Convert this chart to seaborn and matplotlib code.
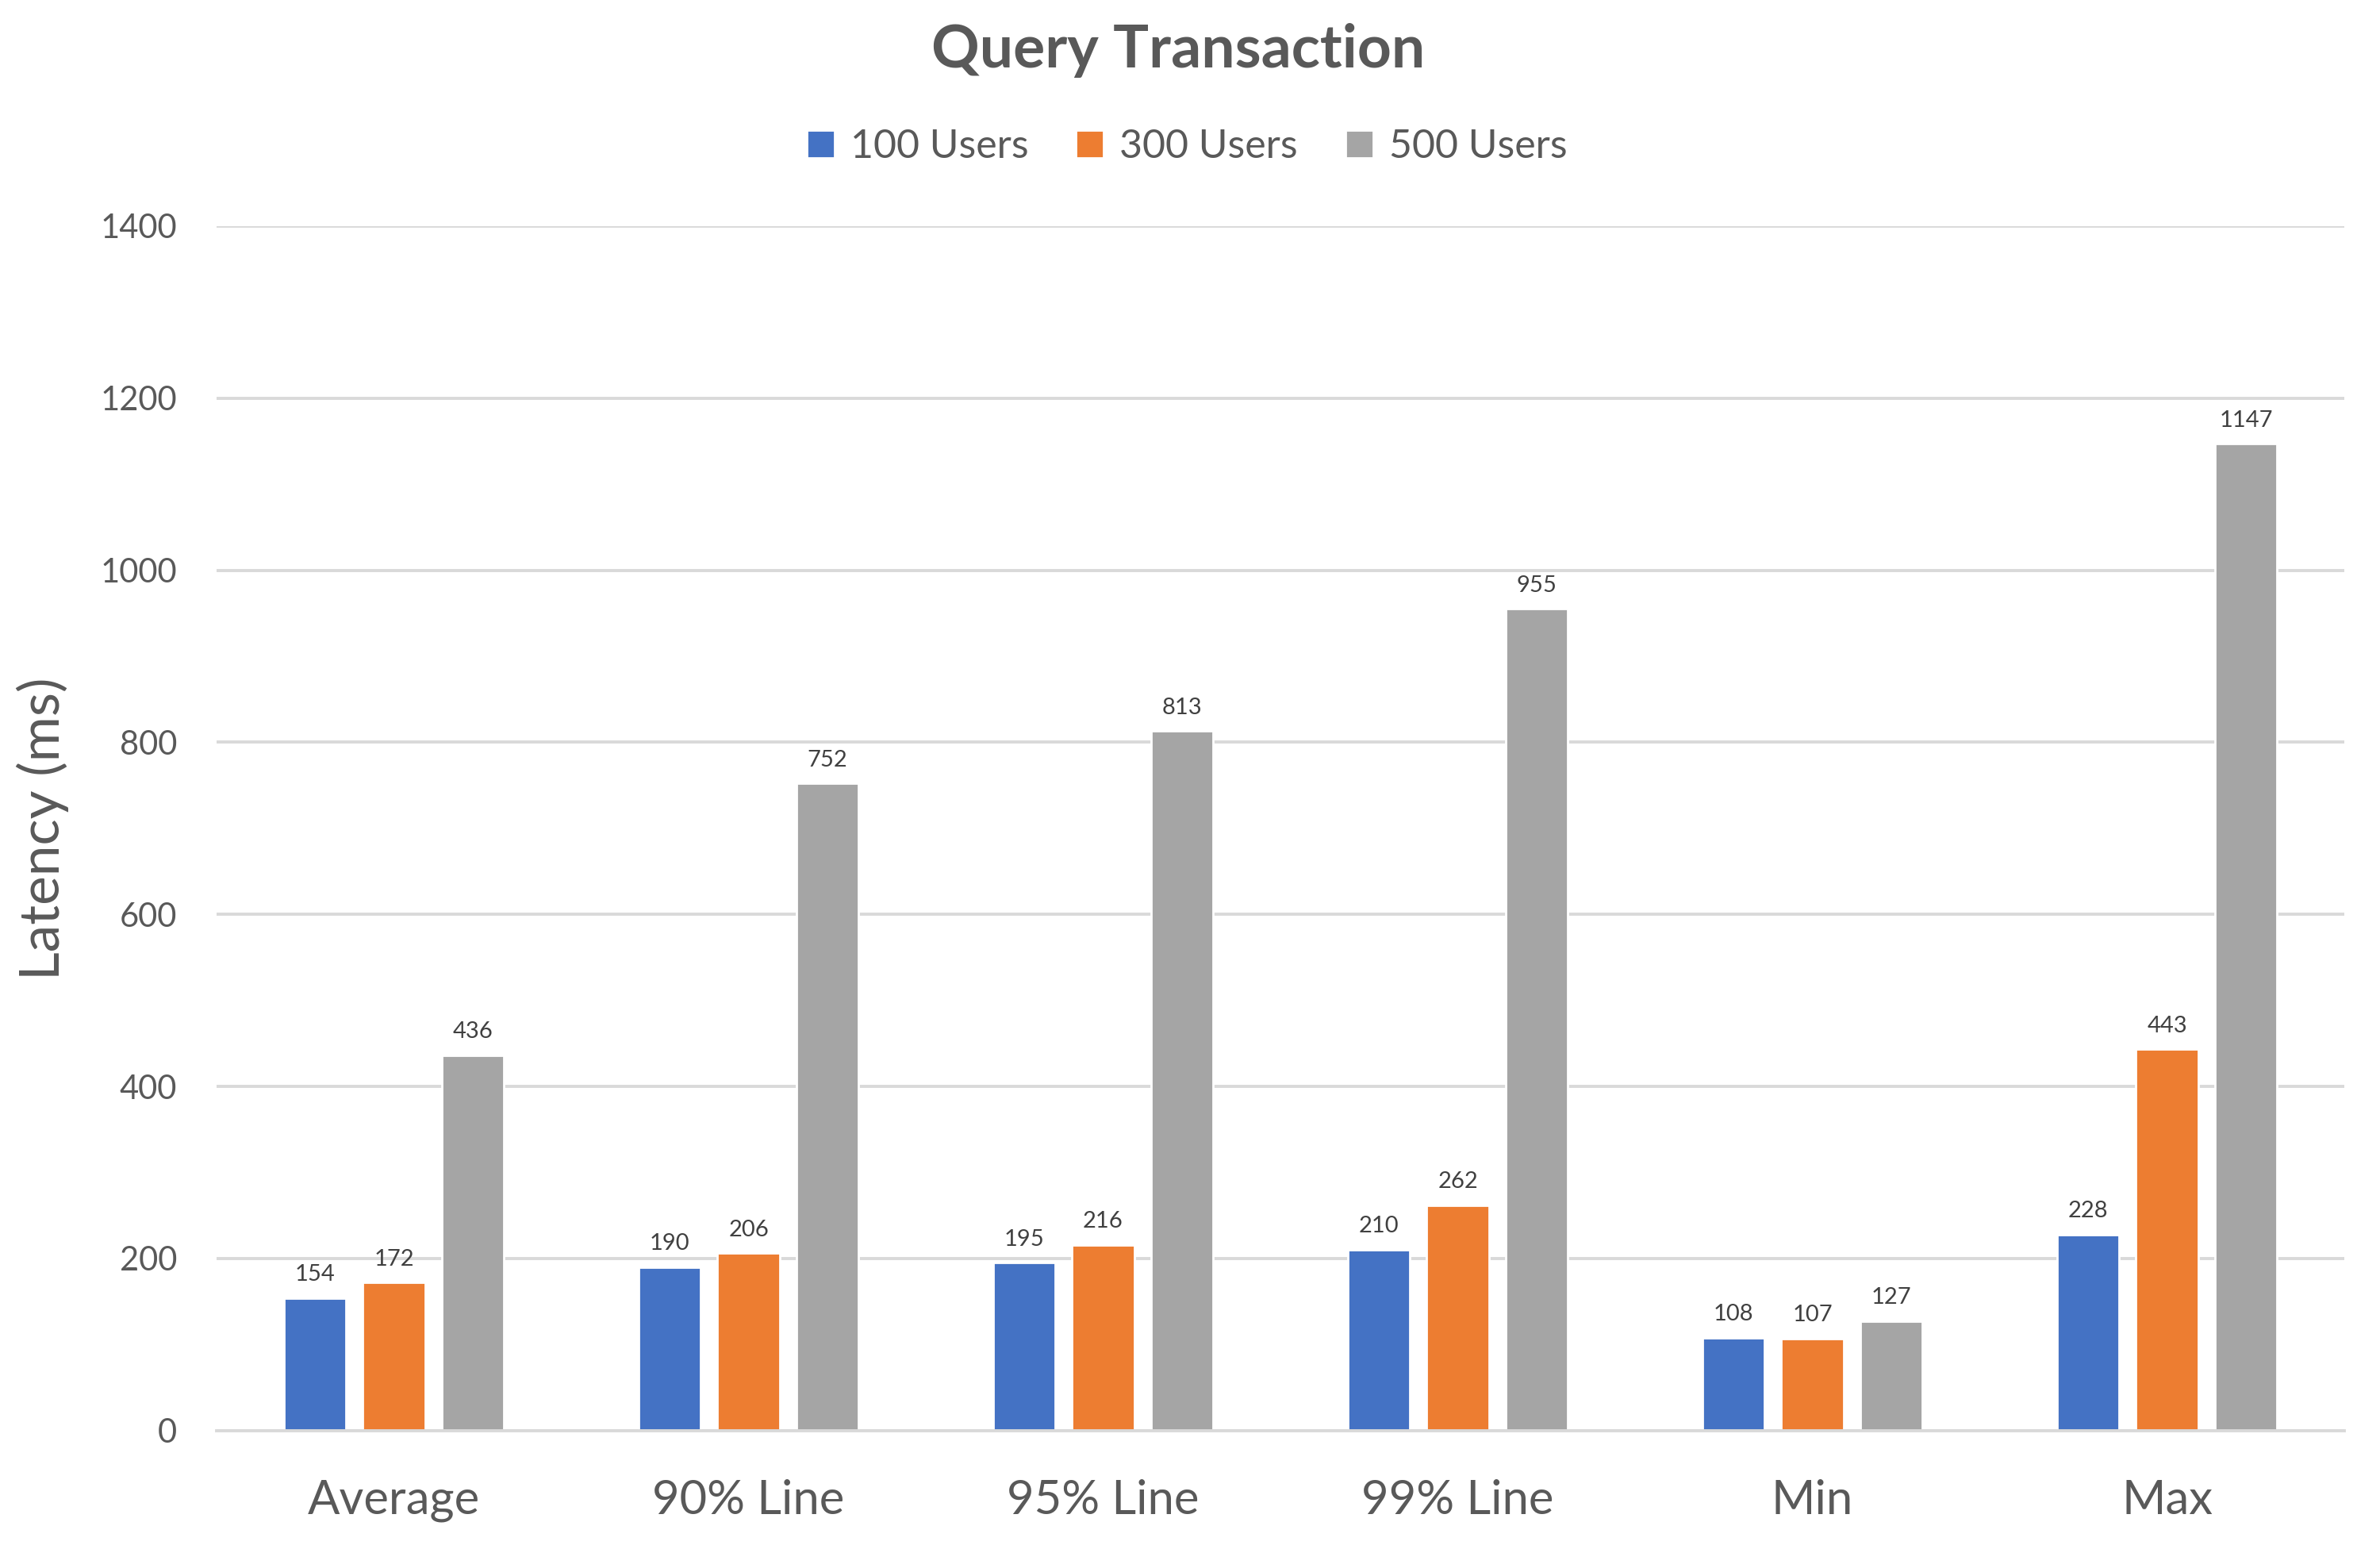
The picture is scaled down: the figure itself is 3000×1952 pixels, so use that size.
import matplotlib
matplotlib.use("Agg")
import matplotlib.pyplot as plt
import seaborn as sns
import pandas as pd

# values
metrics = ["Average", "90% Line", "95% Line", "99% Line", "Min", "Max"]
users_100 = [154, 190, 195, 210, 108, 228]
users_300 = [172, 206, 216, 262, 107, 443]
users_500 = [436, 752, 813, 955, 127, 1147]
series_names = ["100 Users", "300 Users", "500 Users"]
colors = ["#4472C4", "#ED7D31", "#A5A5A5"]

rows = []
for name, vals in zip(series_names, [users_100, users_300, users_500]):
    for m, v in zip(metrics, vals):
        rows.append({"metric": m, "series": name, "latency": v})
df = pd.DataFrame(rows)

sns.set_style("white")
plt.rcParams["font.family"] = ["Lato", "DejaVu Sans"]
text_col = "#595959"

fig = plt.figure(figsize=(15, 9.76), dpi=200)
ax = fig.add_axes([0.091, 0.0765, 0.894, 0.7775])

sns.barplot(data=df, x="metric", y="latency", hue="series", palette=colors,
            width=0.667, gap=0.21, saturation=1, ax=ax, legend=True)

# data labels
for cont in ax.containers:
    ax.bar_label(cont, padding=6, fontsize=10.5, color="#404040")

ax.set_ylim(0, 1400)
ax.set_yticks(range(0, 1401, 200))
ax.set_xlim(-0.5, 5.5)
ax.yaxis.grid(True, color="#D9D9D9", linewidth=1.4)
ax.set_axisbelow(True)
for s in ["top", "right", "left"]:
    ax.spines[s].set_visible(False)
ax.spines["bottom"].set_color("#D9D9D9")
ax.spines["bottom"].set_linewidth(1.4)

ax.tick_params(axis="y", labelsize=15, labelcolor=text_col, length=0, pad=18)
ax.tick_params(axis="x", labelsize=21.5, labelcolor=text_col, length=0, pad=22)
ax.set_xlabel("")
ax.set_ylabel("Latency (ms)", fontsize=25, color=text_col, labelpad=14)

fig.suptitle("Query Transaction", fontsize=27, fontweight="bold", color=text_col,
             x=0.495, y=0.985)

handles, labels = ax.get_legend_handles_labels()
ax.legend(handles, labels, loc="center", bbox_to_anchor=(0.456, 1.066), ncol=3,
          frameon=False, fontsize=18, labelcolor=text_col, handlelength=0.7,
          handleheight=0.7, handletextpad=0.4, columnspacing=1.2)

fig.savefig("out.png", dpi=200)
